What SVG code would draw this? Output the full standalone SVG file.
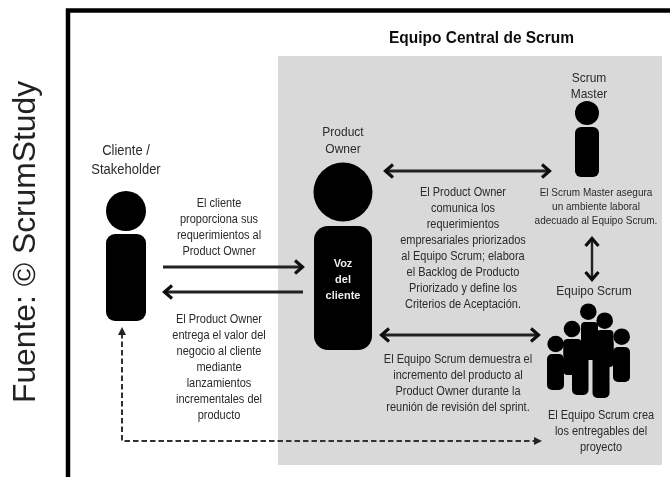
<svg xmlns="http://www.w3.org/2000/svg" width="670" height="477" viewBox="0 0 670 477">
<style>
text{font-family:"Liberation Sans",Arial,sans-serif;fill:#2a2a2a;text-anchor:middle;font-size:11px}
.f{fill:#000}
.s{font-size:10px}
.w{fill:#eee;font-weight:bold;font-size:11px}
.l{stroke:#222;stroke-width:3;fill:none}
.d{stroke:#333;stroke-width:2;fill:none;stroke-dasharray:5.500 3}
</style>
<defs>
<filter id="b" x="-5%" y="-5%" width="110%" height="110%"><feGaussianBlur stdDeviation="0.45"/></filter>
<marker id="a" markerUnits="userSpaceOnUse" markerWidth="14" markerHeight="18" refX="11" refY="9" orient="auto-start-reverse"><path d="M3 2.500L10.500 9L3 15.500" fill="none" stroke="#111" stroke-width="3.200"/></marker>
</defs>
<rect width="670" height="477" fill="#fff"/>
<g filter="url(#b)">
<g id="frame">
<rect x="278" y="56" width="384" height="409" fill="#d9d9d9"/>
<path d="M68 477V10.500H670" fill="none" stroke="#000" stroke-width="4.500"/>
</g>
<text transform="translate(35 403) rotate(-90)" style="font-size:31.800px;text-anchor:start;fill:#222">Fuente: © ScrumStudy</text>
<text transform="translate(481.500 43) scale(1 1.05)" style="font-size:15.500px;font-weight:bold;fill:#111">Equipo Central de Scrum</text>
<g id="connectors">
<path class="l" d="M163 267H303" marker-end="url(#a)"/>
<path class="l" d="M303 292H164" marker-end="url(#a)"/>
<path class="l" d="M385 171H550" marker-start="url(#a)" marker-end="url(#a)"/>
<path class="l" d="M381 335H539" marker-start="url(#a)" marker-end="url(#a)"/>
<path class="l" d="M592 238V280" style="stroke-width:2.400" marker-start="url(#a)" marker-end="url(#a)"/>
<path class="d" d="M122 333V441H536"/>
<path d="M122 327l-4 8h8z" fill="#222"/>
<path d="M542 441l-8-4v8z" fill="#222"/>
</g>
<g id="client">
<circle class="f" cx="126" cy="211" r="20"/>
<rect class="f" x="106" y="234" width="40" height="87" rx="9"/>
<text transform="translate(126 155) scale(1 1.12)" style="font-size:13px">Cliente /<tspan x="0" dy="17">Stakeholder</tspan></text>
</g>
<g id="product-owner">
<circle class="f" cx="343" cy="192" r="29.500"/>
<rect class="f" x="314" y="226" width="58" height="124" rx="14"/>
<text transform="translate(343 136) scale(1 1.12)" style="font-size:12px">Product<tspan x="0" dy="15">Owner</tspan></text>
<text class="w" x="343" y="267">Voz<tspan x="343" dy="16">del</tspan><tspan x="343" dy="16">cliente</tspan></text>
</g>
<g id="scrum-master">
<circle class="f" cx="587" cy="113" r="12"/>
<rect class="f" x="575" y="127" width="24" height="50" rx="6"/>
<text transform="translate(589 82) scale(1 1.12)" style="font-size:12px">Scrum<tspan x="0" dy="14.300">Master</tspan></text>
<text class="s" transform="translate(596 196) scale(1 1.12)">El Scrum Master asegura<tspan x="0" dy="12.500">un ambiente laboral</tspan><tspan x="0" dy="12.500">adecuado al Equipo Scrum.</tspan></text>
</g>
<g id="scrum-team">
<text transform="translate(594 295) scale(1 1.12)" style="font-size:12px">Equipo Scrum</text>
<g class="f">
<circle cx="588.300" cy="311.700" r="8.300"/>
<circle cx="604.700" cy="320.700" r="8.300"/>
<circle cx="572" cy="329" r="8.300"/>
<circle cx="621.700" cy="336.700" r="8.300"/>
<circle cx="555.700" cy="344" r="8.300"/>
<rect x="581" y="322" width="17" height="38" rx="4"/>
<rect x="596.500" y="330" width="17" height="37" rx="4"/>
<rect x="563.500" y="339" width="18" height="36" rx="4"/>
<rect x="613" y="347" width="17" height="35" rx="5"/>
<rect x="547" y="354" width="17" height="36" rx="5"/>
<rect x="572" y="355" width="16.500" height="40" rx="5"/>
<rect x="592.500" y="355" width="17" height="43" rx="5"/>
<rect x="563.500" y="342" width="50" height="14"/>
<rect x="584" y="340" width="16" height="17"/>
</g>
<text transform="translate(601 419) scale(1 1.12)">El Equipo Scrum crea<tspan x="0" dy="14.500">los entregables del</tspan><tspan x="0" dy="14.500">proyecto</tspan></text>
</g>
<g id="labels">
<text transform="translate(219 207) scale(1 1.12)">El cliente<tspan x="0" dy="14.300">proporciona sus</tspan><tspan x="0" dy="14.300">requerimientos al</tspan><tspan x="0" dy="14.300">Product Owner</tspan></text>
<text transform="translate(219 323) scale(1 1.12)">El Product Owner<tspan x="0" dy="14.300">entrega el valor del</tspan><tspan x="0" dy="14.300">negocio al cliente</tspan><tspan x="0" dy="14.300">mediante</tspan><tspan x="0" dy="14.300">lanzamientos</tspan><tspan x="0" dy="14.300">incrementales del</tspan><tspan x="0" dy="14.300">producto</tspan></text>
<text transform="translate(463 196) scale(1 1.12)">El Product Owner<tspan x="0" dy="14.300">comunica los</tspan><tspan x="0" dy="14.300">requerimientos</tspan><tspan x="0" dy="14.300">empresariales priorizados</tspan><tspan x="0" dy="14.300">al Equipo Scrum; elabora</tspan><tspan x="0" dy="14.300">el Backlog de Producto</tspan><tspan x="0" dy="14.300">Priorizado y define los</tspan><tspan x="0" dy="14.300">Criterios de Aceptación.</tspan></text>
<text transform="translate(458 363) scale(1 1.12)">El Equipo Scrum demuestra el<tspan x="0" dy="14.400">incremento del producto al</tspan><tspan x="0" dy="14.400">Product Owner durante la</tspan><tspan x="0" dy="14.400">reunión de revisión del sprint.</tspan></text>
</g>
</g>
</svg>
